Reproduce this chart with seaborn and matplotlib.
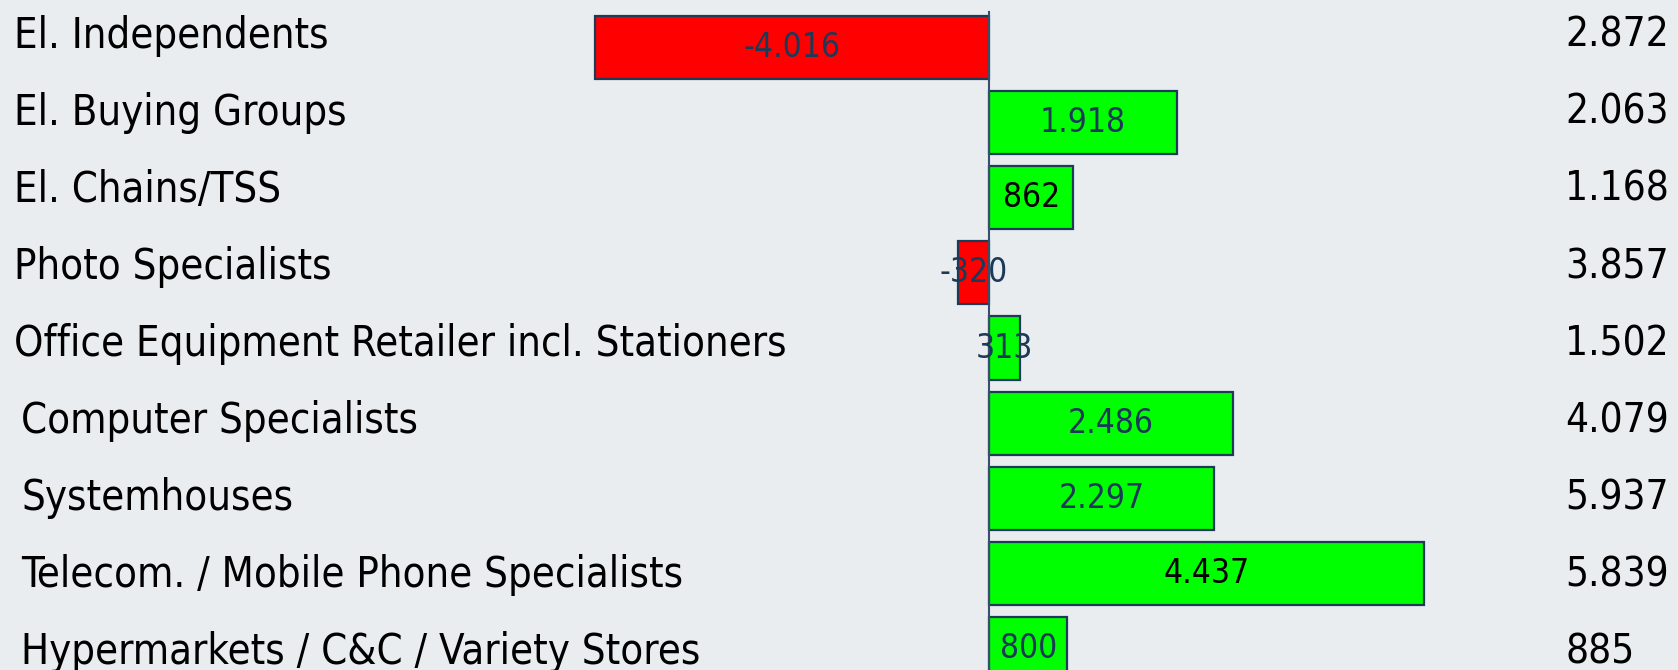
import matplotlib
matplotlib.use("Agg")
import matplotlib.pyplot as plt
import matplotlib.transforms as mtransforms
from matplotlib import font_manager as fm
import seaborn as sns
import pandas as pd

# ---- data ----
categories = [
    "El. Independents",
    "El. Buying Groups",
    "El. Chains/TSS",
    "Photo Specialists",
    "Office Equipment Retailer incl. Stationers",
    "Computer Specialists",
    "Systemhouses",
    "Telecom. / Mobile Phone Specialists",
    "Hypermarkets / C&C / Variety Stores",
]
changes = [-4016, 1918, 862, -320, 313, 2486, 2297, 4437, 800]
change_labels = ["-4.016", "1.918", "862", "-320", "313", "2.486", "2.297", "4.437", "800"]
totals = ["2.872", "2.063", "1.168", "3.857", "1.502", "4.079", "5.937", "5.839", "885"]

# ---- style ----
BG = "#E9EDEF"
EDGE = "#1D3A56"
NAVY = "#1C3A58"
W, H = 1678, 670

cond = [f.fname for f in fm.fontManager.ttflist if "DejaVuSansCondensed.ttf" in f.fname]
def fp(size):
    if cond:
        return fm.FontProperties(fname=cond[0], size=size)
    return fm.FontProperties(family="Liberation Sans", size=size)

df = pd.DataFrame({
    "category": categories,
    "change": changes,
    "sign": ["neg" if v < 0 else "pos" for v in changes],
})

fig = plt.figure(figsize=(W / 100, H / 100), dpi=100)
fig.patch.set_facecolor(BG)
ax = fig.add_axes([0, 0, 1, 1])
ax.set_facecolor(BG)

sns.barplot(data=df, y="category", x="change", hue="sign",
            palette={"neg": "#FF0000", "pos": "#00FF00"}, saturation=1,
            orient="h", width=0.84, dodge=False, edgecolor=EDGE,
            linewidth=1.6, legend=False, ax=ax)

scale = 0.098  # px per unit
zero_px = 989
row_px, top_px = 75.1, 47.6
ax.set_xlim(-zero_px / scale, (W - zero_px) / scale)
ax.set_ylim((H - top_px) / row_px, -top_px / row_px)
ax.set_axis_off()

ax.axvline(0, ymin=0, ymax=1 - 12 / H, color="#34506C", lw=1.5, zorder=5)

blend = mtransforms.blended_transform_factory(ax.transAxes, ax.transData)
for i, (cat, v, lab, tot) in enumerate(zip(categories, changes, change_labels, totals)):
    ty = i * 1.026 - 0.156  # text rows sit on a slightly different pitch
    lx = 14 / W if i < 5 else 21 / W
    ax.text(lx, ty, cat, transform=blend, ha="left", va="center",
            fontproperties=fp(30), color="black")
    ax.text(1565 / W, ty, tot, transform=blend, ha="left", va="center",
            fontproperties=fp(29), color="black")
    tcol = "black" if lab in ("862", "4.437") else NAVY
    ax.text(v / 2, i, lab, ha="center", va="center",
            fontproperties=fp(24), color=tcol, zorder=6)

fig.savefig("out.png", dpi=100, facecolor=BG)
